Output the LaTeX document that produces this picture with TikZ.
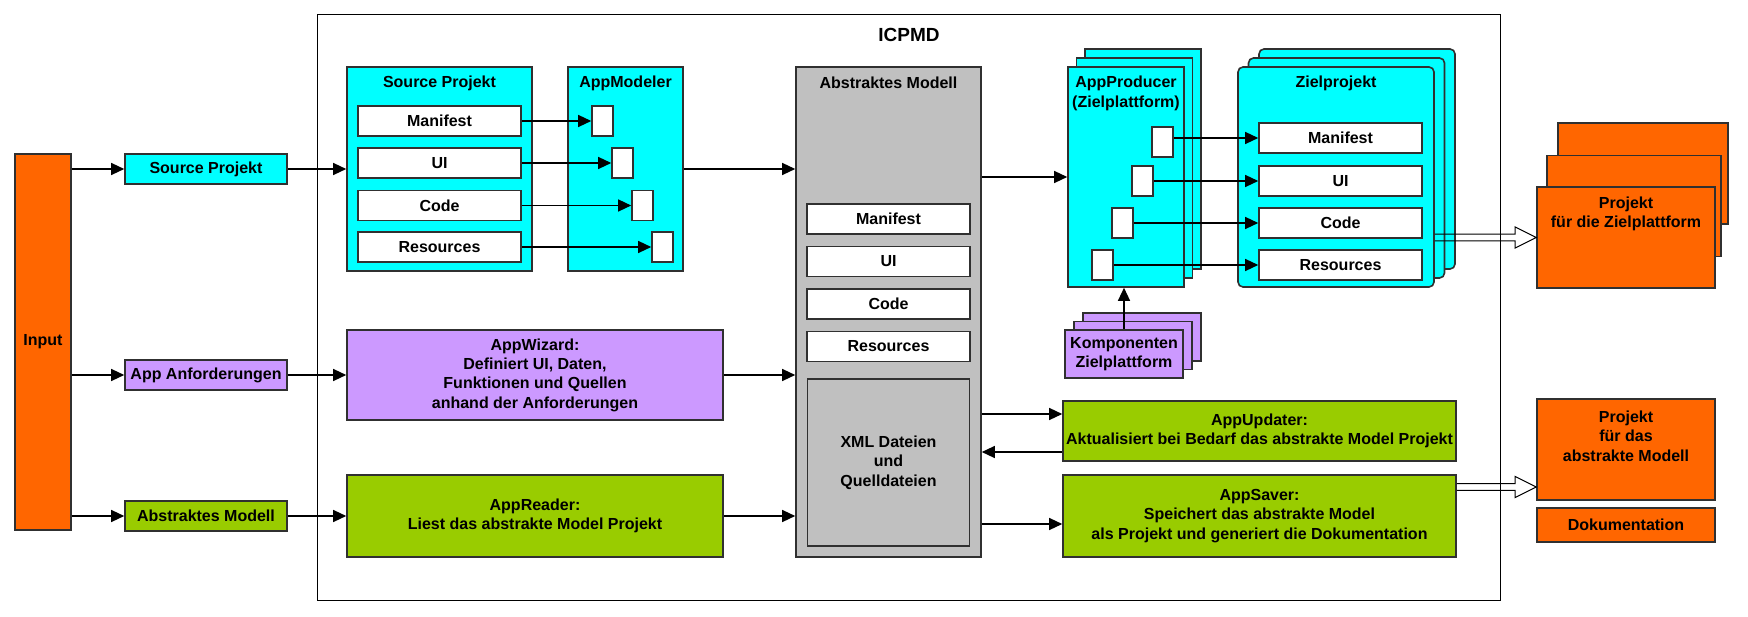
\documentclass[tikz,border=0pt]{standalone}
\usepackage{fontspec}
\setmainfont{Liberation Sans}
\usetikzlibrary{arrows.meta,positioning,calc,shadows}

\definecolor{cyanfill}{HTML}{00FFFF}
\definecolor{orangefill}{HTML}{FF6600}
\definecolor{violetfill}{HTML}{CC99FF}
\definecolor{greenfill}{HTML}{99CC00}
\definecolor{grayfill}{HTML}{C0C0C0}
\definecolor{edge}{HTML}{303030}

% hollow double arrow between two points on one height
\newcommand{\hollowarrow}[2]{%
  \draw[line width=1pt] let \p1=(#1), \p2=(#2) in
    (\x1,\y1+3.3pt) -- (\x2-21pt,\y1+3.3pt) -- (\x2-21pt,\y1+10.5pt) -- (\x2,\y1)
    -- (\x2-21pt,\y1-10.5pt) -- (\x2-21pt,\y1-3.3pt) -- (\x1,\y1-3.3pt);}

\begin{document}
\begin{tikzpicture}[x=1pt,y=-1pt,
    every node/.style={font=\fontsize{16}{19.3}\selectfont\bfseries, align=center, inner sep=0pt},
    sz/.style 2 args={minimum width=#1pt, minimum height=#2pt},
    blk/.style={draw=edge, line width=1.6pt},
    cyanbox/.style={blk, fill=cyanfill},
    orangebox/.style={blk, fill=orangefill},
    violetbox/.style={blk, fill=violetfill},
    greenbox/.style={blk, fill=greenfill},
    graybox/.style={blk, fill=grayfill},
    whitebox/.style={blk, fill=white},
    stack/.style 2 args={double copy shadow={shadow xshift=#1pt, shadow yshift=#2pt}},
    conn/.style={line width=1.3pt, -{Triangle[length=13pt, width=12pt]}}]

    \path[use as bounding box, fill=white] (0,0) rectangle (1748,617);

    % frame
    \node[draw, line width=1pt, sz={1183}{585}] (icpmd) at (908.5,307.5) {};
    \node[font=\fontsize{19}{23}\selectfont\bfseries] (icpmdTitle) at (909,35) {ICPMD};

    % input column
    \node[orangebox, sz={56}{376}] (input) at (43,342) {Input};
    \node[cyanbox, sz={162}{30}] (srcIn) at (206,169) {Source Projekt};
    \node[violetbox, sz={162}{30}] (reqIn) at (206,375) {App Anforderungen};
    \node[greenbox, sz={162}{30}] (absIn) at (206,516) {Abstraktes Modell};

    % source project
    \node[cyanbox, sz={185}{204}] (srcProj) at (439.5,169) {};
    \node (srcTitle) at (439.5,83) {Source Projekt};
    \node[whitebox, sz={163}{30}] (srcMan) at (439.5,121) {Manifest};
    \node[whitebox, sz={163}{30}] (srcUI) at (439.5,163) {UI};
    \node[whitebox, sz={163}{30}] (srcCode) at (439.5,205.5) {Code};
    \node[whitebox, sz={163}{30}] (srcRes) at (439.5,247) {Resources};

    % modeler
    \node[cyanbox, sz={115}{204}] (modeler) at (625.5,169) {};
    \node (modTitle) at (625.5,83) {AppModeler};
    \node[whitebox, sz={21}{30}] (mod1) at (602.5,121) {};
    \node[whitebox, sz={21}{30}] (mod2) at (622.5,163) {};
    \node[whitebox, sz={21}{30}] (mod3) at (642.5,205.5) {};
    \node[whitebox, sz={21}{30}] (mod4) at (662.5,247) {};

    % abstract model
    \node[graybox, sz={185}{490}] (model) at (888.5,312) {};
    \node (modelTitle) at (888.5,83) {Abstraktes Modell};
    \node[whitebox, sz={163}{30}] (modelMan) at (888.5,219) {Manifest};
    \node[whitebox, sz={163}{30}] (modelUI) at (888.5,261.5) {UI};
    \node[whitebox, sz={163}{30}] (modelCode) at (888.5,304) {Code};
    \node[whitebox, sz={163}{30}] (modelRes) at (888.5,346.5) {Resources};
    \node[graybox, sz={162}{167}] (xml) at (888.5,462.5) {XML Dateien\\und\\Quelldateien};

    % wizard and reader
    \node[violetbox, sz={376}{90}] (wizard) at (535,375)
      {AppWizard:\\Definiert UI, Daten,\\Funktionen und Quellen\\anhand der Anforderungen};
    \node[greenbox, sz={376}{82}] (reader) at (535,516)
      {AppReader:\\Liest das abstrakte Model Projekt};

    % producer
    \node[cyanbox, stack={8.5}{9}, sz={116}{220}] (producer) at (1126,177) {};
    \node (prodTitle) at (1126,93.5) {AppProducer\\(Zielplattform)};
    \node[whitebox, sz={21}{30}] (prod1) at (1162.5,142) {};
    \node[whitebox, sz={21}{30}] (prod2) at (1142.5,181) {};
    \node[whitebox, sz={21}{30}] (prod3) at (1122.5,223) {};
    \node[whitebox, sz={21}{30}] (prod4) at (1102.5,265) {};
    \node[violetbox, stack={9}{8.5}, sz={118}{48}] (komp) at (1124,354) {Komponenten\\Zielplattform};

    % target project
    \node[cyanbox, rounded corners=5pt, stack={10.5}{9}, sz={196}{220}] (ziel) at (1336,177) {};
    \node (zielTitle) at (1336,83) {Zielprojekt};
    \node[whitebox, sz={163}{30}] (zielMan) at (1340.5,138) {Manifest};
    \node[whitebox, sz={163}{30}] (zielUI) at (1340.5,181) {UI};
    \node[whitebox, sz={163}{30}] (zielCode) at (1340.5,223) {Code};
    \node[whitebox, sz={163}{30}] (zielRes) at (1340.5,265) {Resources};

    % updater and saver
    \node[greenbox, sz={393}{60}] (updater) at (1259.5,431)
      {AppUpdater:\\Aktualisiert bei Bedarf das abstrakte Model Projekt};
    \node[greenbox, sz={393}{82}] (saver) at (1259.5,516)
      {AppSaver:\\Speichert das abstrakte Model\\als Projekt und generiert die Dokumentation};

    % outputs
    \node[orangebox, sz={170}{101}] (zielOutC) at (1643,173.5) {};
    \node[orangebox, sz={174}{101}] (zielOutB) at (1634,206) {};
    \node[orangebox, sz={178}{101}] (zielOut) at (1626,237.5) {};
    \node (zielOutText) at ($(zielOut.north)+(0,28)$) {Projekt\\für die Zielplattform};
    \node[orangebox, sz={178}{101}] (absOut) at (1626,449.5) {};
    \node (absOutText) at ($(absOut.north)+(0,38)$) {Projekt\\für das\\abstrakte Modell};
    \node[orangebox, sz={178}{34}] (doku) at (1626,525) {Dokumentation};

    % connectors
    \draw[conn] (input.east |- srcIn) -- (srcIn);
    \draw[conn] (input.east |- reqIn) -- (reqIn);
    \draw[conn] (input.east |- absIn) -- (absIn);
    \draw[conn] (srcIn) -- (srcProj);
    \draw[conn] (srcMan.east) -- (mod1.west);
    \draw[conn] (srcUI.east) -- (mod2.west);
    \draw[conn] (srcCode.east) -- (mod3.west);
    \draw[conn] (srcRes.east) -- (mod4.west);
    \draw[conn] (modeler.east) -- (model.west |- modeler.east);
    \draw[conn] (reqIn) -- (wizard);
    \draw[conn] (wizard) -- (model.west |- wizard);
    \draw[conn] (absIn) -- (reader);
    \draw[conn] (reader) -- (model.west |- reader);
    \draw[conn] (model.east |- producer) -- (producer);
    \draw[conn] (prod1.east |- zielMan) -- (zielMan);
    \draw[conn] (prod2.east |- zielUI) -- (zielUI);
    \draw[conn] (prod3.east |- zielCode) -- (zielCode);
    \draw[conn] (prod4.east |- zielRes) -- (zielRes);
    \draw[conn] (komp.north) -- (komp.north |- producer.south);

    \coordinate (upIn) at ([yshift=17pt]updater.west);
    \coordinate (upBack) at ([yshift=-21pt]updater.west);
    \coordinate (svIn) at ([yshift=-8pt]saver.west);
    \coordinate (svOut) at ([yshift=29pt]saver.east);
    \draw[conn] (model.east |- upIn) -- (upIn);
    \draw[conn] (upBack) -- (model.east |- upBack);
    \draw[conn] (model.east |- svIn) -- (svIn);

    \hollowarrow{ziel.east |- zielOut.west}{zielOut.west}
    \hollowarrow{svOut}{absOut.west |- svOut}
\end{tikzpicture}
\end{document}
